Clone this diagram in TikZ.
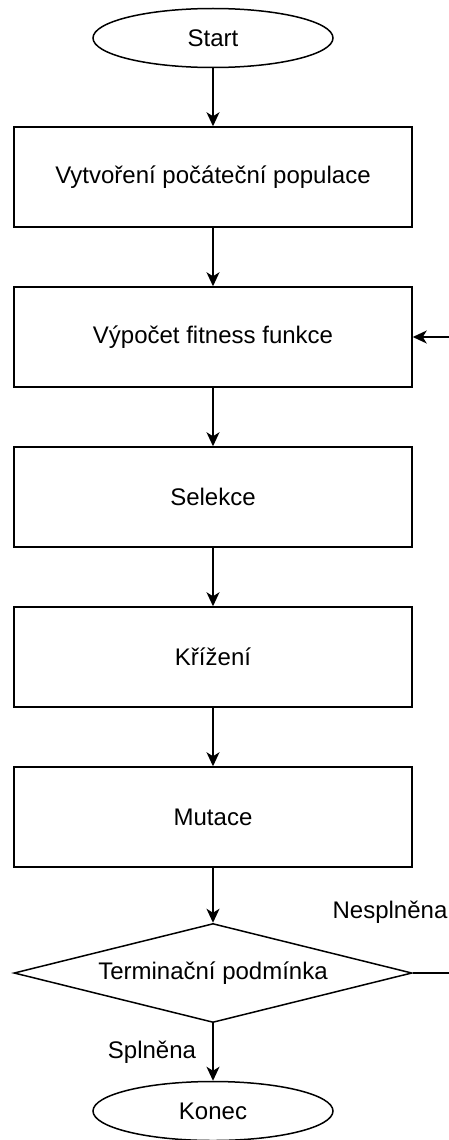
\documentclass[tikz,border=0pt]{standalone}
\usepackage{fontspec}
\setmainfont{Liberation Sans}
\usetikzlibrary{shapes.geometric,arrows.meta}
\begin{document}
\begin{tikzpicture}[x=1pt,y=-1pt,
  every node/.style={font=\fontsize{24}{28}\selectfont},
  stepbox/.style={draw,line width=1.5pt,minimum width=398pt,minimum height=100pt,inner sep=0pt},
  terminal/.style={draw,ellipse,line width=1.5pt,minimum width=240pt,minimum height=59pt,inner sep=0pt},
  decision/.style={draw,diamond,aspect=4,line width=1.5pt,minimum width=398pt,minimum height=99pt,inner sep=0pt},
  flow/.style={line width=1.5pt,-{Stealth[length=14pt,width=13pt,inset=4pt]}},
  lbl/.style={inner sep=0pt}]
\useasboundingbox (0,0) rectangle (449,1140);
\node[terminal] (start) at (213,38) {Start};
\node[stepbox] (init) at (213,177) {Vytvoření počáteční populace};
\node[stepbox] (fit) at (213,337) {Výpočet fitness funkce};
\node[stepbox] (sel) at (213,497) {Selekce};
\node[stepbox] (cross) at (213,657) {Křížení};
\node[stepbox] (mut) at (213,817) {Mutace};
\node[decision] (term) at (213,973) {Terminační podmínka};
\node[terminal] (end) at (213,1111) {Konec};
\coordinate (loopin) at (449,337);
\coordinate (loopout) at (449,973);
\draw[flow] (start) -- (init);
\draw[flow] (init) -- (fit);
\draw[flow] (fit) -- (sel);
\draw[flow] (sel) -- (cross);
\draw[flow] (cross) -- (mut);
\draw[flow] (mut) -- (term.north);
\draw[flow] (term.south) -- (end);
\draw[flow] (loopin) -- (fit.east);
\draw[line width=1.5pt] (term.east) -- (loopout);
\node[lbl] (nespl) at (390,912) {Nesplněna};
\node[lbl] (spl) at (152,1052) {Splněna};
\end{tikzpicture}
\end{document}
